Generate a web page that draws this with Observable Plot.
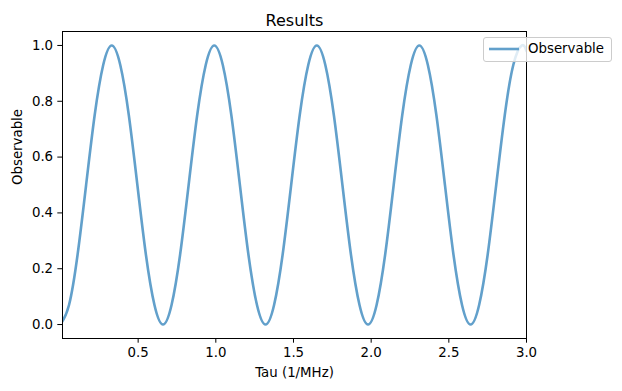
<!DOCTYPE html>
<html>
<head>
<meta charset="utf-8">
<script src="https://cdn.jsdelivr.net/npm/d3@7"></script>
<script src="https://cdn.jsdelivr.net/npm/@observablehq/plot@0.6"></script>
<style>
  html, body { margin: 0; padding: 0; background: white; }
  #wrap { position: relative; width: 622px; height: 391px; font-family: "DejaVu Sans", sans-serif; }
  #legend {
    position: absolute; left: 483px; top: 37px; width: 127px; height: 23px;
    border: 1px solid #cccccc; border-radius: 3px; background: rgba(255,255,255,0.8);
    font-size: 13.33px; color: black;
  }
  #legend svg { position: absolute; left: 4px; top: 0; }
  #legend span { position: absolute; left: 44px; top: 3px; line-height: 16px; }
</style>
</head>
<body>
<div id="wrap"></div>
<script>
const title = "Results";
const xLabel = "Tau (1/MHz)";
const yLabel = "Observable";
const seriesName = "Observable";
const lineColor = "#62a0cb";

const xTicks = [0.5, 1.0, 1.5, 2.0, 2.5, 3.0];
const yTicks = [0.0, 0.2, 0.4, 0.6, 0.8, 1.0];

const tau = [
  0.0, 0.055, 0.11, 0.165, 0.22, 0.275, 0.33, 0.385, 0.44, 0.495, 0.55, 0.605,
  0.66, 0.715, 0.77, 0.825, 0.88, 0.935, 0.99, 1.045, 1.1, 1.155, 1.21, 1.265,
  1.32, 1.375, 1.43, 1.485, 1.54, 1.595, 1.65, 1.705, 1.76, 1.815, 1.87, 1.925,
  1.98, 2.035, 2.09, 2.145, 2.2, 2.255, 2.31, 2.365, 2.42, 2.475, 2.53, 2.585,
  2.64, 2.695, 2.75, 2.805, 2.86, 2.915, 2.97, 3.0
];
const observable = [
  0.0, 0.07, 0.25, 0.5, 0.75, 0.93, 1.0, 0.93, 0.75, 0.5, 0.25, 0.07,
  0.0, 0.07, 0.25, 0.5, 0.75, 0.93, 1.0, 0.93, 0.75, 0.5, 0.25, 0.07,
  0.0, 0.07, 0.25, 0.5, 0.75, 0.93, 1.0, 0.93, 0.75, 0.5, 0.25, 0.07,
  0.0, 0.07, 0.25, 0.5, 0.75, 0.93, 1.0, 0.93, 0.75, 0.5, 0.25, 0.07,
  0.0, 0.07, 0.25, 0.5, 0.75, 0.93, 1.0, 0.98
];

const data = tau.map((t, i) => ({tau: t, obs: observable[i]}));

const chart = Plot.plot({
  width: 622,
  height: 391,
  marginLeft: 62,
  marginRight: 96,
  marginTop: 31,
  marginBottom: 53,
  x: {domain: [0.013, 3.0]},
  y: {domain: [-0.05, 1.05]},
  style: {fontFamily: "DejaVu Sans", fontSize: "13.33px", color: "black", background: "white", overflow: "visible"},
  marks: [
    Plot.line(data, {x: "tau", y: "obs", stroke: lineColor, strokeWidth: 2.6, curve: "natural", clip: true}),
    Plot.frame({stroke: "black", strokeWidth: 1}),
    Plot.axisX({ticks: xTicks, tickFormat: d3.format(".1f"), tickSize: 4.7, tickPadding: 4.7, label: null, stroke: "black", fill: "black"}),
    Plot.axisY({ticks: yTicks, tickFormat: d3.format(".1f"), tickSize: 4.7, tickPadding: 4.7, label: null, stroke: "black", fill: "black"}),
    Plot.text([title], {text: d => d, frameAnchor: "top", dy: -17, fontSize: 16, fill: "black"}),
    Plot.text([xLabel], {text: d => d, frameAnchor: "bottom", dy: 38, fill: "black"}),
    Plot.text([yLabel], {text: d => d, frameAnchor: "left", dx: -45, rotate: -90, fill: "black"})
  ]
});

const wrap = document.getElementById("wrap");
wrap.appendChild(chart);

const legend = document.createElement("div");
legend.id = "legend";
legend.innerHTML = `<svg width="36" height="23"><line x1="1" y1="11" x2="31" y2="11" stroke="${lineColor}" stroke-width="2.6"/></svg><span></span>`;
legend.querySelector("span").textContent = seriesName;
wrap.appendChild(legend);
</script>
</body>
</html>
